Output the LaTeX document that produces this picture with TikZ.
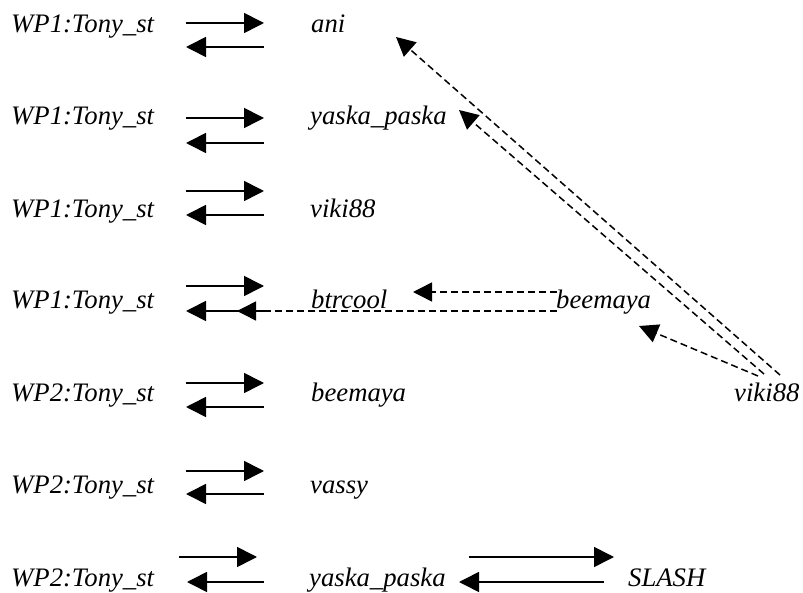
\documentclass[tikz,border=0pt]{standalone}
\usepackage{fontspec}
\setmainfont{Liberation Serif}
\usetikzlibrary{arrows.meta}
\tikzset{
  lbl/.style={anchor=base west, inner sep=0pt, font=\fontsize{26.7}{32}\selectfont\itshape},
  solidarr/.style={line width=1.6pt, -{Triangle[length=20pt,width=20pt]}},
  dasharr/.style={line width=1.5pt, dash pattern=on 7pt off 4pt, -{Triangle[length=19pt,width=19pt]}}
}
\begin{document}
\begin{tikzpicture}[x=1pt,y=-1pt]
\useasboundingbox (0,0) rectangle (803,593);
% left labels
\node[lbl] (L1) at (11,33) {WP1:Tony\_st};
\node[lbl] (L2) at (11,125) {WP1:Tony\_st};
\node[lbl] (L3) at (11,218) {WP1:Tony\_st};
\node[lbl] (L4) at (11,309) {WP1:Tony\_st};
\node[lbl] (L5) at (11,401) {WP2:Tony\_st};
\node[lbl] (L6) at (11,493) {WP2:Tony\_st};
\node[lbl] (L7) at (11,586) {WP2:Tony\_st};
% right labels
\node[lbl] (R1) at (311,33) {ani};
\node[lbl] (R2) at (310,125) {yaska\_paska};
\node[lbl] (R3) at (310,218) {viki88};
\node[lbl] (R4) at (311,309) {btrcool};
\node[lbl] (R5) at (311,401) {beemaya};
\node[lbl] (R6) at (310,493) {vassy};
\node[lbl] (R7) at (309,586) {yaska\_paska};
\node[lbl] (B2) at (556,309) {beemaya};
\node[lbl] (V2) at (734,401) {viki88};
\node[lbl] (S) at (628,586) {SLASH};
% short arrow pairs
\coordinate (a1s) at (186,23);  \coordinate (a1e) at (264,23);
\coordinate (b1s) at (264,47);  \coordinate (b1e) at (186,47);
\coordinate (a2s) at (186,118); \coordinate (a2e) at (264,118);
\coordinate (b2s) at (264,143); \coordinate (b2e) at (186,143);
\coordinate (a3s) at (186,191); \coordinate (a3e) at (264,191);
\coordinate (b3s) at (264,215); \coordinate (b3e) at (186,215);
\coordinate (a4s) at (186,286); \coordinate (a4e) at (264,286);
\coordinate (b4s) at (264,311); \coordinate (b4e) at (186,311);
\coordinate (a5s) at (186,383); \coordinate (a5e) at (264,383);
\coordinate (b5s) at (264,407); \coordinate (b5e) at (186,407);
\coordinate (a6s) at (186,471); \coordinate (a6e) at (264,471);
\coordinate (b6s) at (264,494); \coordinate (b6e) at (186,494);
\coordinate (a7s) at (179,557); \coordinate (a7e) at (257,557);
\coordinate (b7s) at (264,582); \coordinate (b7e) at (187,582);
\foreach \i in {1,...,7}{
  \draw[solidarr] (a\i s) -- (a\i e);
  \draw[solidarr] (b\i s) -- (b\i e);
}
% yaska_paska <-> SLASH
\coordinate (ys) at (469,557); \coordinate (ye) at (614,557);
\coordinate (zs) at (604,582); \coordinate (ze) at (459,582);
\draw[solidarr] (ys) -- (ye);
\draw[solidarr] (zs) -- (ze);
% dashed arrows
\coordinate (bt1) at (413,292);
\coordinate (bt2) at (237,311);
\coordinate (bm1) at (557,292);
\coordinate (bm2) at (557,311);
\draw[dasharr] (bm1) -- (bt1);
\draw[dasharr] (bm2) -- (bt2);
\coordinate (v1) at (758,376);
\coordinate (v2) at (764,374);
\coordinate (v3) at (780,375);
\coordinate (t1) at (639,326);
\coordinate (t2) at (459,110);
\coordinate (t3) at (396,37);
\draw[dasharr] (v1) -- (t1);
\draw[dasharr] (v2) -- (t2);
\draw[dasharr] (v3) -- (t3);
\end{tikzpicture}
\end{document}
